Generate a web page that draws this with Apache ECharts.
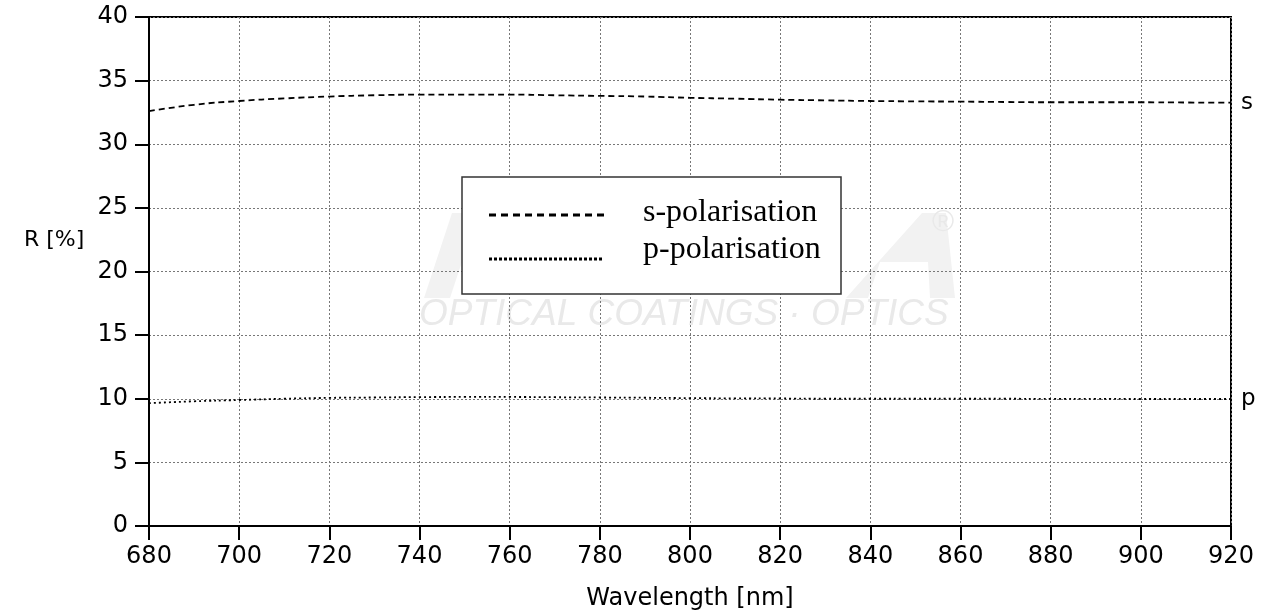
<!DOCTYPE html>
<html><head><meta charset="utf-8">
<script src="https://cdn.jsdelivr.net/npm/echarts@6/dist/echarts.min.js"></script>
<style>html,body{margin:0;padding:0;background:#fff;overflow:hidden}#c{width:1268px;height:614px}</style>
</head><body><div id="c"></div>
<script>
const wavelengths = [680, 690, 700, 710, 720, 730, 740, 750, 760, 770, 780, 790, 800, 810, 820, 830, 840, 850, 860, 870, 880, 890, 900, 910, 920];
const sPol = [32.6, 33.1, 33.4, 33.6, 33.75, 33.85, 33.9, 33.9, 33.9, 33.85, 33.8, 33.75, 33.65, 33.58, 33.5, 33.45, 33.4, 33.37, 33.35, 33.32, 33.3, 33.3, 33.3, 33.28, 33.27];
const pPol = [9.65, 9.8, 9.9, 10.0, 10.07, 10.1, 10.13, 10.14, 10.14, 10.12, 10.1, 10.08, 10.05, 10.03, 10.02, 10.0, 10.0, 10.0, 10.0, 10.0, 9.99, 9.99, 9.98, 9.98, 9.98];
const xTicks = [680, 700, 720, 740, 760, 780, 800, 820, 840, 860, 880, 900, 920];
const yTicks = [0, 5, 10, 15, 20, 25, 30, 35, 40];
const seriesNames = ['s-polarisation', 'p-polarisation'];
const endLabels = ['s', 'p'];

const chart = echarts.init(document.getElementById('c'), null, {width: 1268, height: 614});
const F = 'DejaVu Sans, Verdana, sans-serif';
const WM = '#f2f2f2';
chart.setOption({
  animation: false,
  grid: {left: 149, width: 1082, top: 17, height: 509, outerBoundsMode: 'none', containLabel: false, show: true, borderColor: '#000', borderWidth: 2, backgroundColor: 'transparent'},
  xAxis: {
    type: 'value', min: xTicks[0], max: xTicks[xTicks.length - 1], interval: 20,
    name: 'Wavelength [nm]', nameLocation: 'middle', nameGap: 61,
    nameTextStyle: {fontFamily: F, fontSize: 24, color: '#000'},
    axisLine: {lineStyle: {color: '#000', width: 2}},
    axisTick: {length: 14, lineStyle: {color: '#000', width: 2}},
    axisLabel: {fontFamily: F, fontSize: 24, color: '#000', margin: 19},
    splitLine: {show: true, lineStyle: {color: '#777', width: 1, type: [2, 2]}}
  },
  yAxis: {
    type: 'value', min: yTicks[0], max: yTicks[yTicks.length - 1], interval: 5,
    axisLine: {show: true, lineStyle: {color: '#000', width: 2}},
    axisTick: {show: true, length: 14, lineStyle: {color: '#000', width: 2}},
    axisLabel: {fontFamily: F, fontSize: 24, color: '#000', margin: 21},
    splitLine: {show: true, lineStyle: {color: '#777', width: 1, type: [2, 2]}}
  },
  graphic: [
    {type: 'text', left: 24, top: 229, style: {text: 'R [%]', font: '22px DejaVu Sans, Verdana, sans-serif', fill: '#000'}},
    {type: 'polygon', z: 0, shape: {points: [[424, 298], [452, 213], [478, 213], [450, 298]]}, style: {fill: WM}},
    {type: 'polygon', z: 0, shape: {points: [[846, 298], [922, 213], [946, 213], [955, 298], [930, 298], [928, 262], [880, 262], [868, 298]]}, style: {fill: WM}},
    {type: 'text', left: 419, top: 296, z: 0, style: {text: 'OPTICAL COATINGS · OPTICS', font: 'italic 37px Liberation Sans, Arial, sans-serif', fill: '#e9e9e9'}},
    {type: 'text', left: 932, top: 208, z: 0, style: {text: '®', font: '30px Liberation Sans, Arial, sans-serif', fill: '#e9e9e9'}},
    {type: 'rect', z: 10, shape: {x: 462, y: 177, width: 379, height: 117}, style: {fill: '#fff', stroke: '#333', lineWidth: 1.5}},
    {type: 'line', z: 11, shape: {x1: 489, y1: 215, x2: 604, y2: 215}, style: {stroke: '#000', lineWidth: 3, lineDash: [7, 5]}},
    {type: 'line', z: 11, shape: {x1: 489, y1: 259, x2: 604, y2: 259}, style: {stroke: '#000', lineWidth: 3, lineDash: [3, 2]}},
    {type: 'text', z: 11, left: 643, top: 197, style: {text: seriesNames[0], font: '32px Liberation Serif, Times New Roman, serif', fill: '#000'}},
    {type: 'text', z: 11, left: 643, top: 234, style: {text: seriesNames[1], font: '32px Liberation Serif, Times New Roman, serif', fill: '#000'}}
  ],
  series: [
    {name: seriesNames[0], type: 'line', showSymbol: false, smooth: true, data: wavelengths.map((w, i) => [w, sPol[i]]),
     lineStyle: {color: '#000', width: 1.8, type: [6, 4]},
     endLabel: {show: true, formatter: endLabels[0], fontFamily: F, fontSize: 23, color: '#000', distance: 10}},
    {name: seriesNames[1], type: 'line', showSymbol: false, smooth: true, data: wavelengths.map((w, i) => [w, pPol[i]]),
     lineStyle: {color: '#000', width: 1.8, type: [2, 3]},
     endLabel: {show: true, formatter: endLabels[1], fontFamily: F, fontSize: 23, color: '#000', distance: 10}}
  ]
});
</script></body></html>
